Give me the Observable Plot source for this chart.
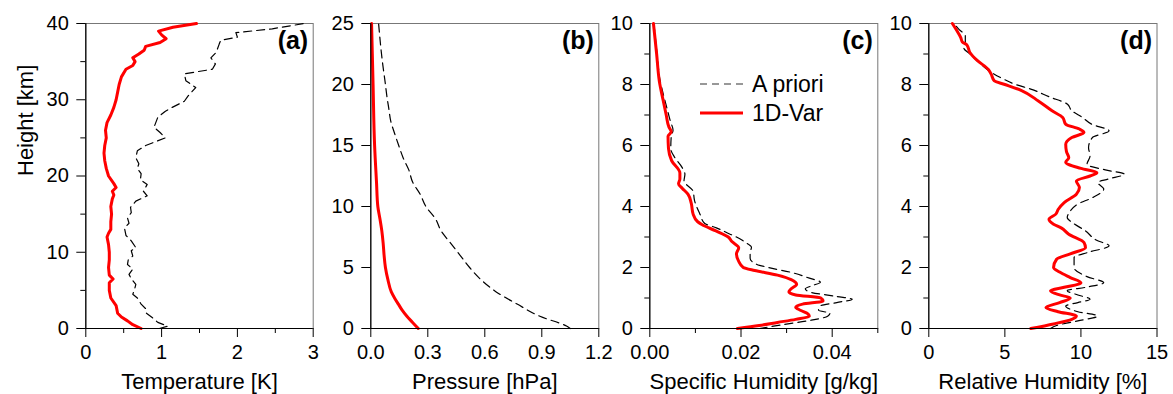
<!DOCTYPE html>
<html>
<head>
<meta charset="utf-8">
<script src="https://cdn.jsdelivr.net/npm/d3@7"></script>
<script src="https://cdn.jsdelivr.net/npm/@observablehq/plot@0.6"></script>
<style>
  html, body { margin: 0; padding: 0; background: white; }
  #wrap { position: relative; width: 1173px; height: 394px; font-family: "Liberation Sans", Arial, sans-serif; }
  #wrap > svg { position: absolute; left: 0; top: 0; }
</style>
</head>
<body>
<div id="wrap"></div>
<script>
// ---------- Data ----------
const seriesNames = ["A priori", "1D-Var"];
const panelTags = ["(a)", "(b)", "(c)", "(d)"];
const xLabels = ["Temperature [K]", "Pressure [hPa]", "Specific Humidity [g/kg]", "Relative Humidity [%]"];
const yLabel = "Height [km]";

// (a) Temperature error [K] vs height [km]
const tempPriorH = [0,0.3,0.8,1.4,2,2.5,3.2,4,4.5,5,5.8,6.5,7.1,7.8,8.4,9,9.5,10.2,10.6,11.5,12.2,13.2,13.8,14.5,15.2,15.9,16.7,17.4,18,18.9,19.5,20.3,21,21.6,22.4,23.3,24,25,25.7,26.4,27.7,28.5,29,29.8,30.5,31.6,32.5,33.4,34,34.7,35.5,36.2,37.3,37.8,38.2,38.8,39.3,40];
const tempPriorV = [0.97,1.08,0.95,0.88,0.80,0.80,0.73,0.68,0.62,0.64,0.66,0.60,0.57,0.62,0.55,0.56,0.62,0.60,0.66,0.60,0.53,0.51,0.57,0.55,0.60,0.59,0.66,0.81,0.76,0.81,0.72,0.73,0.68,0.70,0.66,0.68,0.79,1.05,0.98,0.90,0.95,1.05,1.14,1.30,1.35,1.45,1.32,1.30,1.67,1.71,1.65,1.72,1.76,1.78,2.00,1.98,2.46,2.88];
const temp1dvarH = [0,0.5,1,1.5,2,3,4,5,6,6.5,7,8,9,10,11,12,12.5,13,14,15,16,17,17.5,18,18.5,19,20,21,22,23,24,25,26,27,28,29,30,31,32,33,34,34.5,35,35.5,36,36.5,37,37.5,38,38.5,39,39.5,40];
const temp1dvarV = [0.73,0.62,0.55,0.47,0.42,0.40,0.33,0.31,0.31,0.36,0.31,0.30,0.31,0.31,0.30,0.28,0.30,0.33,0.33,0.34,0.33,0.35,0.37,0.35,0.40,0.37,0.30,0.27,0.25,0.24,0.25,0.27,0.26,0.28,0.33,0.37,0.40,0.42,0.44,0.47,0.53,0.62,0.65,0.62,0.70,0.77,0.79,0.98,1.06,1.00,0.96,1.15,1.46];

// (b) Pressure error [hPa]
const presPriorH = [0,0.2,1,2,3,4,5,6,7,8,9,10,11,12,13,14,15,16,17,18,19,20,22,25];
const presPriorV = [1.05,1.03,0.89,0.77,0.66,0.58,0.52,0.47,0.42,0.37,0.34,0.29,0.26,0.22,0.20,0.17,0.147,0.125,0.105,0.095,0.085,0.077,0.06,0.041];
const pres1dvarH = [0,0.5,1,1.5,2,2.5,3,4,5,6,7,8,9,10,12,15,20,25];
const pres1dvarV = [0.25,0.22,0.19,0.165,0.145,0.125,0.108,0.09,0.077,0.07,0.065,0.058,0.048,0.037,0.03,0.02,0.012,0.004];

// (c) Specific humidity error [g/kg]
const qPriorH = [0,0.12,0.25,0.4,0.5,0.6,0.74,0.85,0.96,1.05,1.2,1.3,1.4,1.52,1.65,1.84,2.0,2.1,2.3,2.5,2.66,2.82,3.0,3.1,3.3,3.45,3.75,4.2,4.5,4.84,5.06,5.3,5.6,5.9,6.3,6.5,6.8,7.2,7.6,8.1,9.0,10];
const qPriorV = [0.024,0.029,0.0345,0.039,0.0395,0.037,0.0374,0.041,0.0444,0.041,0.035,0.0341,0.0355,0.0374,0.035,0.031,0.026,0.0235,0.022,0.022,0.0223,0.021,0.019,0.0175,0.0146,0.012,0.011,0.0098,0.0095,0.0075,0.0077,0.007,0.0055,0.0046,0.0047,0.0051,0.0045,0.0038,0.0031,0.0023,0.0016,0.0009];
const q1dvarH = [0,0.1,0.2,0.3,0.4,0.5,0.6,0.7,0.8,0.9,1.0,1.1,1.2,1.3,1.45,1.6,1.75,1.9,2.0,2.2,2.45,2.65,2.85,3.0,3.2,3.4,3.5,3.75,4.1,4.4,4.6,4.75,4.9,5.1,5.5,5.9,6.3,6.45,6.6,7.0,7.5,8.1,9.0,10];
const q1dvarV = [0.0192,0.024,0.028,0.032,0.035,0.0345,0.033,0.032,0.0335,0.038,0.0375,0.032,0.0305,0.031,0.0322,0.031,0.028,0.023,0.0205,0.0195,0.019,0.0195,0.018,0.0172,0.0145,0.0115,0.0105,0.0095,0.0091,0.0084,0.0071,0.0063,0.0066,0.0066,0.0048,0.0041,0.0040,0.0047,0.0042,0.0036,0.0029,0.0021,0.0015,0.0008];

// (d) Relative humidity error [%]
const rhPriorH = [0,0.1,0.25,0.41,0.55,0.74,0.85,0.96,1.1,1.24,1.35,1.5,1.7,2.0,2.33,2.5,2.71,2.9,3.2,3.45,3.64,3.85,4.08,4.3,4.57,4.79,4.9,5.06,5.2,5.38,5.66,5.93,6.26,6.48,6.7,6.92,7.14,7.36,7.6,7.85,8.0,8.18,8.4,8.77,9.0,9.2,9.4,9.6,9.8,10];
const rhPriorV = [8.0,8.4,9.8,11.1,9.8,9.0,9.8,10.6,9.8,9.1,10.3,11.5,10.4,9.55,9.55,10.5,11.85,11.0,10.3,9.5,9.1,9.3,9.8,10.8,11.5,11.1,11.8,12.85,11.6,10.4,10.6,10.5,10.75,11.85,10.7,10.1,9.4,9.1,7.9,6.7,5.7,4.9,4.1,3.2,2.7,2.3,2.4,2.4,2.0,1.65];
const rh1dvarH = [0,0.15,0.3,0.41,0.55,0.69,0.85,1.0,1.1,1.24,1.35,1.5,1.67,1.85,2.0,2.27,2.45,2.65,2.82,3.09,3.3,3.42,3.58,3.75,3.9,4.13,4.4,4.62,4.84,5.0,5.11,5.25,5.45,5.6,5.8,6.04,6.26,6.43,6.54,6.7,6.92,7.14,7.46,7.8,8.0,8.12,8.34,8.5,8.78,9.05,9.3,9.4,9.54,9.76,10];
const rh1dvarV = [6.7,8.2,9.4,9.7,8.5,7.7,8.6,9.3,8.6,8.0,8.9,10.0,9.3,8.6,8.2,8.4,9.3,10.3,10.2,9.2,8.7,8.2,7.9,8.35,8.5,8.9,9.7,9.9,9.7,10.6,11.05,10.0,9.0,9.2,9.05,9.0,9.4,10.2,9.9,9.0,8.8,8.1,7.2,6.1,5.0,4.3,4.1,3.9,3.2,2.7,2.5,2.2,2.1,1.85,1.55];

// Ticks
const xMajorTicks = [[0,1,2,3],[0,0.3,0.6,0.9,1.2],[0,0.02,0.04],[0,5,10,15]];
const xMinorTicks = [[0.5,1.5,2.5],[],[0.01,0.03,0.05],[]];
const yMajorTicks = [[0,10,20,30,40],[0,5,10,15,20,25],[0,2,4,6,8,10],[0,2,4,6,8,10]];
const yMinorTicks = [[5,15,25,35],[],[1,3,5,7,9],[1,3,5,7,9]];
const xDomains = [[0,3],[0,1.2],[0,0.05],[0,15]];
const yDomains = [[0,40],[0,25],[0,10],[0,10]];
const xFormats = [d => String(d), d => d.toFixed(1), d => d.toFixed(2), d => String(d)];

// ---------- Layout / style ----------
const W = 1173, H = 394;
const frames = [[85.3, 312.7], [370.3, 598.3], [649.3, 877.3], [928.3, 1156.5]];
const FONT = '"Liberation Sans", Arial, Helvetica, sans-serif';
const RED = "#ff0000";
const DASH = "8,5";

const pair = (hs, vs) => hs.map((h, i) => ({h, v: vs[i]}));
const series = [
  [pair(tempPriorH, tempPriorV), pair(temp1dvarH, temp1dvarV)],
  [pair(presPriorH, presPriorV), pair(pres1dvarH, pres1dvarV)],
  [pair(qPriorH, qPriorV), pair(q1dvarH, q1dvarV)],
  [pair(rhPriorH, rhPriorV), pair(rh1dvarH, rh1dvarV)]
];
const curves = ["linear", "monotone-y", "monotone-y", "monotone-y"];

const wrap = document.getElementById("wrap");

for (let i = 0; i < 4; i++) {
  const [l, r] = frames[i];
  const marks = [
    Plot.frame({stroke: "#777", strokeWidth: 1}),
    Plot.line(series[i][0], {x: "v", y: "h", stroke: "black", strokeWidth: 1.2, strokeDasharray: DASH, curve: curves[i]}),
    Plot.line(series[i][1], {x: "v", y: "h", stroke: RED, strokeWidth: 3, curve: curves[i]}),
    Plot.ruleX([xDomains[i][0]], {stroke: "black", strokeWidth: 1.2}),
    Plot.ruleY([yDomains[i][0]], {stroke: "black", strokeWidth: 1.2}),
    Plot.axisX(xMajorTicks[i], {tickSize: 9, tickPadding: 7, fontSize: 20, tickFormat: xFormats[i], label: null}),
    Plot.axisY(yMajorTicks[i], {tickSize: 9, tickPadding: 8, fontSize: 20, tickFormat: d => String(d), label: null}),
    Plot.text([xLabels[i]], {text: d => d, frameAnchor: "bottom", dy: 53, lineAnchor: "middle", fontSize: 22}),
    Plot.text([panelTags[i]], {text: d => d, frameAnchor: "top-right", dx: -5, dy: 8, textAnchor: "end", lineAnchor: "top", fontSize: 25, fontWeight: "bold"})
  ];
  if (xMinorTicks[i].length) marks.push(Plot.axisX(xMinorTicks[i], {tickSize: 5, tickFormat: () => "", label: null}));
  if (yMinorTicks[i].length) marks.push(Plot.axisY(yMinorTicks[i], {tickSize: 5, tickFormat: () => "", label: null}));
  if (i === 0) marks.push(Plot.text([yLabel], {text: d => d, frameAnchor: "left", dx: -60, rotate: -90, fontSize: 22}));

  const chart = Plot.plot({
    width: W, height: H,
    marginLeft: l, marginRight: W - r, marginTop: 23, marginBottom: H - 328,
    x: {domain: xDomains[i]},
    y: {domain: yDomains[i]},
    style: {background: "transparent", fontFamily: FONT, color: "black", overflow: "visible"},
    marks
  });
  wrap.appendChild(chart);
}

// Legend (panel c)
const ns = "http://www.w3.org/2000/svg";
const leg = document.createElementNS(ns, "svg");
leg.setAttribute("width", W); leg.setAttribute("height", H);
leg.style.overflow = "visible";
const legItems = [
  {name: seriesNames[0], stroke: "#333", width: 1.2, dash: "7,5", y: 84},
  {name: seriesNames[1], stroke: RED, width: 3, dash: null, y: 113}
];
for (const it of legItems) {
  const ln = document.createElementNS(ns, "line");
  ln.setAttribute("x1", 700); ln.setAttribute("x2", 743);
  ln.setAttribute("y1", it.y); ln.setAttribute("y2", it.y);
  ln.setAttribute("stroke", it.stroke); ln.setAttribute("stroke-width", it.width);
  if (it.dash) ln.setAttribute("stroke-dasharray", it.dash);
  leg.appendChild(ln);
  const tx = document.createElementNS(ns, "text");
  tx.setAttribute("x", 752); tx.setAttribute("y", it.y);
  tx.setAttribute("dy", "0.36em");
  tx.setAttribute("font-size", 23);
  tx.setAttribute("font-family", FONT);
  tx.setAttribute("fill", "black");
  tx.textContent = it.name;
  leg.appendChild(tx);
}
wrap.appendChild(leg);
</script>
</body>
</html>
